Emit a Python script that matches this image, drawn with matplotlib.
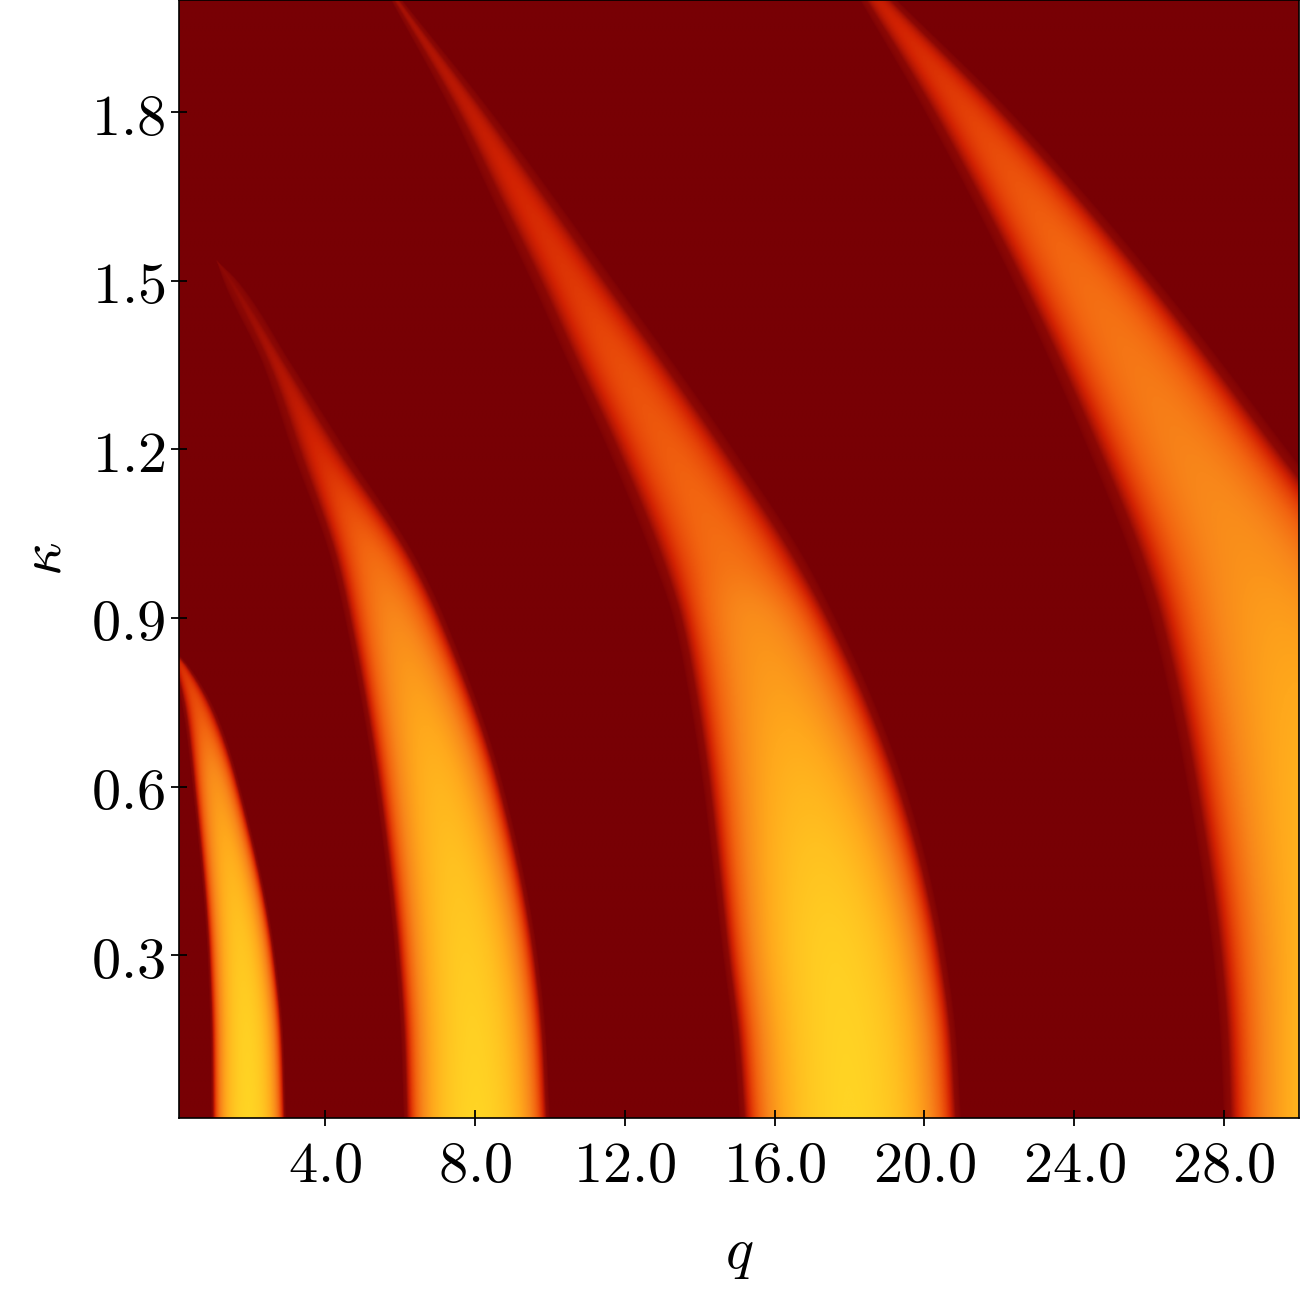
import numpy as np
import matplotlib
matplotlib.use("Agg")
import matplotlib.pyplot as plt
from matplotlib.colors import LinearSegmentedColormap

plt.rcParams['mathtext.fontset'] = 'cm'

# ---- data: instability tongues (boundaries in q at given kappa) ----
kappa_t1 = [0.01, 0.15, 0.30, 0.60, 0.725, 0.81, 0.86]
qleft_t1 = [0.95, 0.93, 0.85, 0.45, 0.22, -0.05, -0.30]
qright_t1 = [2.95, 2.88, 2.66, 1.72, 1.12, 0.40, -0.30]
peak_t1 = [1.00, 0.98, 0.93, 0.72, 0.55, 0.45, 0.35]

kappa_t2 = [0.01, 0.15, 0.30, 0.60, 0.90, 1.004, 1.20, 1.352, 1.50, 1.537]
qleft_t2 = [6.09, 6.02, 5.86, 5.33, 4.52, 4.15, 3.10, 2.33, 1.28, 1.09]
qright_t2 = [10.00, 9.90, 9.67, 8.76, 7.19, 6.45, 4.55, 3.10, 1.66, 1.09]
peak_t2 = [1.00, 0.98, 0.95, 0.85, 0.68, 0.60, 0.43, 0.36, 0.31, 0.30]

kappa_t3 = [0.01, 0.15, 0.30, 0.45, 0.60, 0.755, 0.90, 1.004, 1.20, 1.352, 1.50, 1.65, 1.80, 2.00]
qleft_t3 = [15.06, 14.90, 14.62, 14.36, 14.09, 13.73, 13.29, 12.75, 11.55, 10.50, 9.50, 8.43, 7.38, 5.76]
qright_t3 = [20.98, 20.86, 20.57, 20.12, 19.49, 18.63, 17.63, 16.82, 14.91, 13.32, 11.72, 10.11, 8.45, 6.06]
peak_t3 = [1.00, 0.99, 0.97, 0.92, 0.85, 0.77, 0.70, 0.62, 0.56, 0.52, 0.47, 0.43, 0.39, 0.34]

kappa_t4 = [0.01, 0.15, 0.30, 0.60, 0.90, 1.004, 1.20, 1.50, 1.80, 2.00]
qleft_t4 = [28.00, 27.91, 27.71, 27.03, 26.05, 25.55, 24.38, 22.36, 20.03, 18.29]
qright_t4 = [35.90, 35.80, 35.50, 34.50, 32.80, 31.90, 29.70, 26.24, 22.33, 19.28]
peak_t4 = [0.98, 0.96, 0.92, 0.85, 0.76, 0.72, 0.67, 0.60, 0.49, 0.40]

q_range = [0.1, 30.0]
kappa_range = [0.01, 2.0]

x_ticks = [4, 8, 12, 16, 20, 24, 28]
y_ticks = [0.3, 0.6, 0.9, 1.2, 1.5, 1.8]

# ---- colour scale ----
cmap_pos = [0.00, 0.30, 0.36, 0.42, 0.50, 0.58, 0.68, 0.80, 0.90, 1.00]
cmap_col = ['#780004', '#8c0804', '#b01404', '#d22202', '#e64408',
            '#f26410', '#f8861a', '#ffa81c', '#ffc020', '#ffd424']
cmap = LinearSegmentedColormap.from_list('solar', list(zip(cmap_pos, cmap_col)))


def pchip(x, xp, yp):
    """Shape-preserving piecewise cubic through the read points."""
    xp = np.asarray(xp, float)
    yp = np.asarray(yp, float)
    h = np.diff(xp)
    d = np.diff(yp) / h
    n = len(xp)
    m = np.zeros(n)
    for k in range(1, n - 1):
        if d[k - 1] * d[k] > 0:
            w1 = 2 * h[k] + h[k - 1]
            w2 = h[k] + 2 * h[k - 1]
            m[k] = (w1 + w2) / (w1 / d[k - 1] + w2 / d[k])
    m[0] = d[0]
    m[-1] = d[-1]
    x = np.clip(x, xp[0], xp[-1])
    idx = np.clip(np.searchsorted(xp, x) - 1, 0, n - 2)
    hh = h[idx]
    s = (x - xp[idx]) / hh
    h00 = 2 * s**3 - 3 * s**2 + 1
    h10 = s**3 - 2 * s**2 + s
    h01 = -2 * s**3 + 3 * s**2
    h11 = s**3 - s**2
    return h00 * yp[idx] + h10 * hh * m[idx] + h01 * yp[idx + 1] + h11 * hh * m[idx + 1]


# ---- build field ----
nq, nk = 1400, 1300
Q = np.linspace(q_range[0], q_range[1], nq)
K = np.linspace(kappa_range[0], kappa_range[1], nk)
QQ, KK = np.meshgrid(Q, K)
field = np.zeros_like(QQ)
tongues = [(kappa_t1, qleft_t1, qright_t1, peak_t1),
           (kappa_t2, qleft_t2, qright_t2, peak_t2),
           (kappa_t3, qleft_t3, qright_t3, peak_t3),
           (kappa_t4, qleft_t4, qright_t4, peak_t4)]
for kap, ql, qr, pk in tongues:
    L = pchip(K, kap, ql)[:, None]
    R = pchip(K, kap, qr)[:, None]
    P = pchip(K, kap, pk)[:, None]
    valid = (K <= kap[-1])[:, None]
    W = np.where(R - L > 1e-9, R - L, 1e-9)
    t = (QQ - L) / W
    inside = (t > 0) & (t < 1) & valid
    val = np.where(inside, P * np.sqrt(np.clip(4 * t * (1 - t), 0, 1)), 0)
    field = np.maximum(field, val)

fig = plt.figure(figsize=(13, 12.95), dpi=100)
ax = fig.add_axes([179 / 1300, 177 / 1295, 1120 / 1300, 1118 / 1295])
ax.imshow(field, origin='lower', aspect='auto', cmap=cmap, vmin=0, vmax=1,
          extent=[q_range[0], q_range[1], kappa_range[0], kappa_range[1]],
          interpolation='bilinear')
ax.set_xlim(q_range)
ax.set_ylim(kappa_range)
ax.set_xticks(x_ticks)
ax.set_yticks(y_ticks)
ax.set_xticklabels([r'$%.1f$' % v for v in x_ticks])
ax.set_yticklabels([r'$%.1f$' % v for v in y_ticks])
ax.tick_params(direction='inout', length=12, width=1.3, labelsize=42)
ax.tick_params(axis='x', pad=8)
ax.tick_params(axis='y', pad=4)
for s in ax.spines.values():
    s.set_linewidth(1.2)
ax.set_xlabel(r'$q$', fontsize=42, labelpad=21)
ax.set_ylabel(r'$\kappa$', fontsize=42, labelpad=13)

fig.savefig('out.png', dpi=100)
